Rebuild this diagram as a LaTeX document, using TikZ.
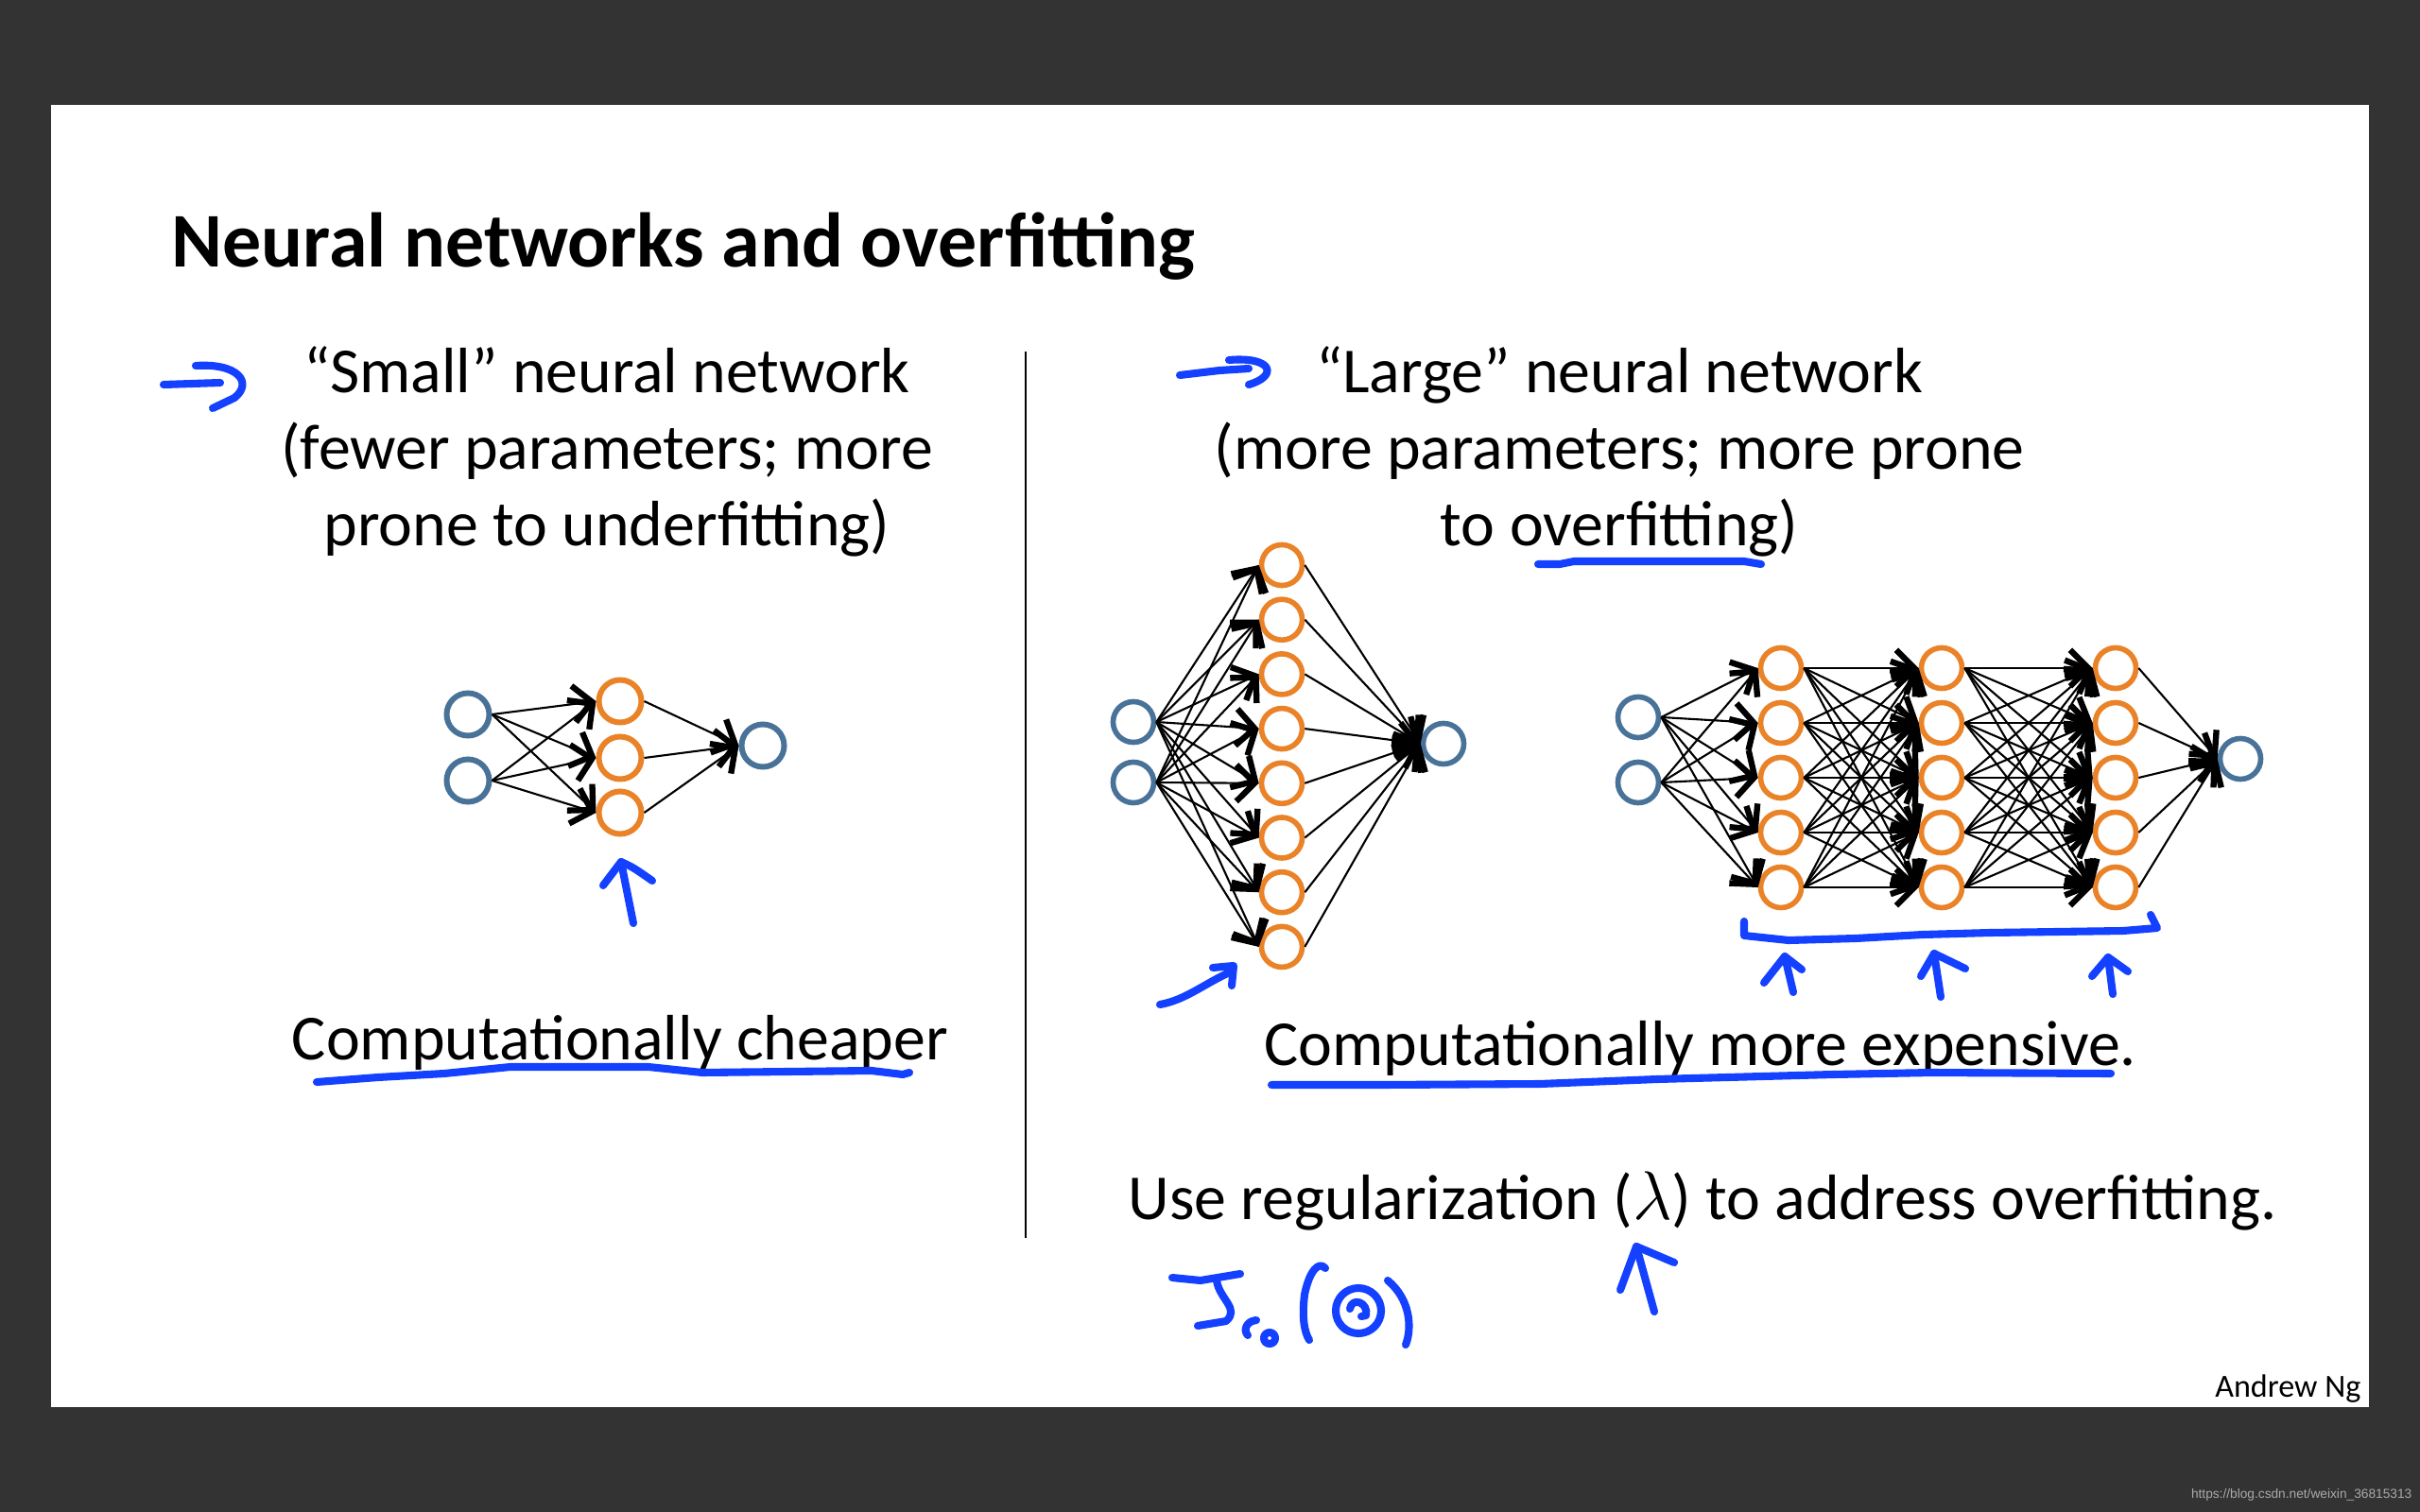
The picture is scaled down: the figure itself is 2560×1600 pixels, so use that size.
\documentclass[tikz,border=0pt]{standalone}
\usepackage{fontspec}
\setmainfont{Carlito}
\newfontfamily\wmfont{Liberation Sans}
\usetikzlibrary{arrows.meta}
\definecolor{bgdark}{RGB}{51,51,51}
\definecolor{nodeblue}{RGB}{73,114,153}
\definecolor{nodeorange}{RGB}{234,130,40}
\definecolor{inkblue}{RGB}{20,64,255}
\definecolor{wmgray}{RGB}{170,170,170}
\tikzset{
  innode/.style={circle,draw=nodeblue,line width=1.7pt,minimum size=0.45cm,inner sep=0pt},
  hidnode/.style={circle,draw=nodeorange,line width=1.7pt,minimum size=0.45cm,inner sep=0pt},
  bignode/.style={circle,line width=1.6pt,minimum size=0.43cm,inner sep=0pt},
  nnedge/.style={line width=0.6pt,-{Straight Barb[length=5.5pt,width=11pt,line width=1.8pt]}},
  handink/.style={draw=inkblue,line width=2.3pt,line cap=round,line join=round},
  bodytxt/.style={font=\fontsize{19.3pt}{23pt}\selectfont,anchor=base,inner sep=0pt},
}
\begin{document}
\begin{tikzpicture}[x=0.01cm,y=-0.01cm]
\fill[bgdark] (0,0) rectangle (2560,1600);
\fill[white] (54,111) rectangle (2506,1489);
\useasboundingbox (0,0) rectangle (2560,1600);

% title
\node[anchor=base west,inner sep=0pt,font=\fontsize{23.3pt}{28pt}\selectfont\bfseries] (title) at (181,282) {Neural networks and overfitting};

% headers
\node[bodytxt] (lA) at (642,415) {“Small” neural network};
\node[bodytxt] (lB) at (642,496) {(fewer parameters; more};
\node[bodytxt] (lC) at (642,577) {prone to underfitting)};
\node[bodytxt] (rA) at (1713,415) {“Large” neural network};
\node[bodytxt] (rB) at (1713,496) {(more parameters; more prone};
\node[bodytxt] (rC) at (1713,577) {to overfitting)};

% divider
\coordinate (dvtop) at (1085,372);
\coordinate (dvbot) at (1085,1310);
\draw[line width=0.6pt] (dvtop) -- (dvbot);

% small network
\node[innode] (si1) at (495,756) {};
\node[innode] (si2) at (495,826) {};
\node[hidnode] (sh1) at (656,742) {};
\node[hidnode] (sh2) at (656,802) {};
\node[hidnode] (sh3) at (656,860) {};
\node[innode] (so) at (807,789) {};
\foreach \i in {1,2}{\foreach \j in {1,2,3}{\draw[nnedge] (si\i.east) -- (sh\j.west);}}
\foreach \j in {1,2,3}{\draw[nnedge] (sh\j.east) -- (so.west);}

% large network 1
\node[bignode,draw=nodeblue] (ai1) at (1199,764) {};
\node[bignode,draw=nodeblue] (ai2) at (1199,828) {};
\foreach \k in {1,...,8}{\node[bignode,draw=nodeorange] (ah\k) at (1356,{598+57.7*(\k-1)}) {};}
\node[bignode,draw=nodeblue] (ao) at (1527,787) {};
\foreach \i in {1,2}{\foreach \k in {1,...,8}{\draw[nnedge] (ai\i.east) -- (ah\k.west);}}
\foreach \k in {1,...,8}{\draw[nnedge] (ah\k.east) -- (ao.west);}

% large network 2
\node[bignode,draw=nodeblue] (bi1) at (1733,759) {};
\node[bignode,draw=nodeblue] (bi2) at (1733,828) {};
\foreach \k in {1,...,5}{
  \node[bignode,draw=nodeorange] (bc\k) at (1884,{707+58*(\k-1)}) {};
  \node[bignode,draw=nodeorange] (bd\k) at (2054,{707+58*(\k-1)}) {};
  \node[bignode,draw=nodeorange] (be\k) at (2238,{707+58*(\k-1)}) {};
}
\node[bignode,draw=nodeblue] (bo) at (2370,803) {};
\foreach \i in {1,2}{\foreach \k in {1,...,5}{\draw[nnedge] (bi\i.east) -- (bc\k.west);}}
\foreach \i in {1,...,5}{\foreach \k in {1,...,5}{
  \draw[nnedge] (bc\i.east) -- (bd\k.west);
  \draw[nnedge] (bd\i.east) -- (be\k.west);}}
\foreach \k in {1,...,5}{\draw[nnedge] (be\k.east) -- (bo.west);}

% bottom texts
\node[bodytxt] (cheap) at (656,1121) {Computationally cheaper};
\node[bodytxt] (expen) at (1799,1127) {Computationally more expensive.};
\node[bodytxt] (regul) at (1801,1290) {Use regularization ($\lambda$) to address overfitting.};

\node[anchor=base east,inner sep=0pt,font=\fontsize{9.7pt}{11pt}\selectfont] (author) at (2498,1478) {Andrew Ng};
\node[anchor=base east,inner sep=0pt,text=wmgray,font=\wmfont\fontsize{3.9pt}{5pt}\selectfont] (wm) at (2552,1585) {https://blog.csdn.net/weixin\_36815313};

% hand-drawn annotations
\draw[handink] (173,407) -- (233,405);
\draw[handink] (207,387) .. controls (252,384) and (268,405) .. (248,421) -- (225,432);
\draw[handink] (1248,397) -- (1290,392) -- (1321,390);
\draw[handink] (1300,381) .. controls (1347,377) and (1352,398) .. (1321,407);
\draw[handink] (1627,597) -- (1650,597) -- (1665,594) -- (1845,594) -- (1863,597);
% small net arrow
\draw[handink] (670,977) -- (657,912);
\draw[handink] (638,937) -- (657,912) .. controls (670,918) .. (690,932);
% large net 1 arrow
\draw[handink] (1227,1063) .. controls (1255,1058) and (1275,1040) .. (1303,1028);
\draw[handink] (1283,1024) -- (1305,1022) -- (1303,1043);
% bracket
\draw[handink] (1845,975) -- (1845,990) -- (1892,995) -- (1963,993) -- (2034,989) -- (2105,987) -- (2246,985) -- (2282,982) -- (2275,968);
% three arrows
\draw[handink] (1897,1050) -- (1888,1012);
\draw[handink] (1866,1040) -- (1888,1012) -- (1906,1026);
\draw[handink] (2053,1055) -- (2046,1009);
\draw[handink] (2032,1033) -- (2046,1009) -- (2079,1025);
\draw[handink] (2235,1052) -- (2230,1013);
\draw[handink] (2213,1033) -- (2230,1013) -- (2251,1028);
% underlines
\draw[handink] (335,1145) -- (400,1140) -- (470,1136) -- (540,1129) -- (686,1129) -- (743,1135) -- (922,1133) -- (955,1137) -- (962,1135);
\draw[handink] (1345,1148) -- (1462,1148) -- (1629,1147) -- (1753,1142) -- (1939,1137) -- (2044,1135) -- (2233,1136);
% lambda arrow
\draw[handink] (1750,1388) -- (1731,1319);
\draw[handink] (1714,1365) -- (1731,1319) -- (1771,1336);
% J(theta)
\draw[handink] (1240,1352) -- (1270,1355) -- (1312,1348);
\draw[handink] (1287,1355) .. controls (1290,1375) and (1312,1385) .. (1297,1398) -- (1267,1403);
\draw[handink] (1329,1397) .. controls (1318,1398) and (1315,1408) .. (1320,1413);
\draw[handink] (1343,1416) circle (6);
\draw[handink] (1402,1342) .. controls (1395,1334) and (1385,1345) .. (1380,1370) .. controls (1377,1395) and (1380,1410) .. (1385,1418);
\draw[handink] (1437,1387) circle (24);
\draw[handink] (1428,1385) .. controls (1430,1372) and (1448,1378) .. (1445,1392) -- (1440,1393);
\draw[handink] (1468,1355) .. controls (1492,1375) and (1494,1405) .. (1487,1423);
\end{tikzpicture}
\end{document}
